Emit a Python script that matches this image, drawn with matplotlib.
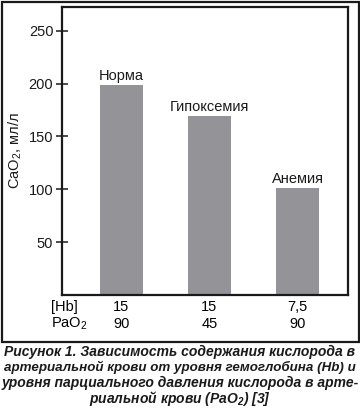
import matplotlib
matplotlib.use("Agg")
import matplotlib.pyplot as plt
from matplotlib.patches import Rectangle
from matplotlib.transforms import blended_transform_factory

plt.rcParams["font.family"] = ["Liberation Sans", "DejaVu Sans"]
plt.rcParams["mathtext.fontset"] = "custom"
plt.rcParams["mathtext.rm"] = "Liberation Sans"
plt.rcParams["mathtext.it"] = "Liberation Sans:italic"
plt.rcParams["mathtext.bf"] = "Liberation Sans:bold:italic"

# data
groups = ["Норма", "Гипоксемия", "Анемия"]
cao2 = [199, 169, 101]
hb = ["15", "15", "7,5"]
pao2 = ["90", "45", "90"]
yticks = [50, 100, 150, 200, 250]
caption = [
    "Рисунок 1. Зависимость содержания кислорода в",
    "артериальной крови от уровня гемоглобина (Hb) и",
    "уровня парциального давления кислорода в арте-",
    r"риальной крови (Pa$\mathbf{O}_{\mathbf{2}}$) [3]",
]
caption_sizes = [10, 9.65, 10, 10]

W, H = 360, 411
fig = plt.figure(figsize=(W / 100, H / 100), dpi=100)

# outer frame
fig.add_artist(Rectangle((1.5 / W, (H - 342) / H), 357 / W, 340 / H,
                         transform=fig.transFigure, fill=False,
                         edgecolor="#1a1a1a", linewidth=1.6))

ax = fig.add_axes([62 / W, (H - 295) / H, 286 / W, 287.5 / H])
x = range(len(groups))
ax.bar(x, cao2, width=0.485, color="#949498", zorder=2)
for xi, v, name in zip(x, cao2, groups):
    ax.text(xi, v + 2, name, ha="center", va="bottom", fontsize=10.5, color="#1a1a1a")

ax.set_xlim(-0.676, 2.574)
ax.set_ylim(0, 272)
ax.set_yticks(yticks)
ax.set_xticks([])
ax.tick_params(axis="y", direction="inout", length=8.6, width=1.1,
               labelsize=10.5, pad=2, colors="#1a1a1a")
for s in ax.spines.values():
    s.set_linewidth(1.6)
    s.set_color("#1a1a1a")

# row labels under the bars
tr = blended_transform_factory(ax.transData, ax.transAxes)
tra = ax.transAxes
ax.text(-0.038, -0.042, "[Hb]", transform=tra, ha="left", va="center", fontsize=10.5)
ax.text(-0.038, -0.101, "PaO$_2$", transform=tra, ha="left", va="center", fontsize=10.5)
for xi, h, p in zip(x, hb, pao2):
    ax.text(xi, -0.042, h, transform=tr, ha="center", va="center", fontsize=10.5)
    ax.text(xi, -0.101, p, transform=tr, ha="center", va="center", fontsize=10.5)

fig.text(15 / W, 1 - 151 / H, "CaO$_2$, мл/л", rotation=90, ha="center",
         va="center", fontsize=10.5, color="#1a1a1a")

# caption
for i, (line, fs) in enumerate(zip(caption, caption_sizes)):
    fig.text(0.5, 1 - (352 + 15.6 * i) / H, line, ha="center", va="center",
             fontsize=fs, fontweight="bold", fontstyle="italic", color="#1a1a1a")

fig.savefig("out.png", dpi=100)
